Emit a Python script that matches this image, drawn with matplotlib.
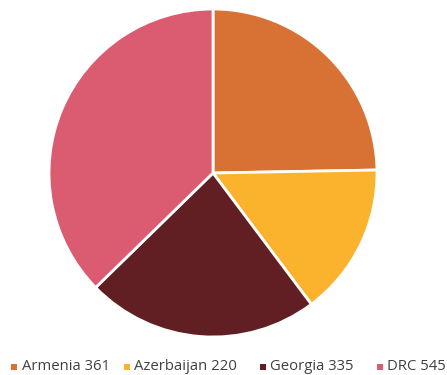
import matplotlib
matplotlib.use("Agg")
import matplotlib.pyplot as plt
from matplotlib.patches import Rectangle

categories = ["Armenia", "Azerbaijan", "Georgia", "DRC"]
values = [361, 220, 335, 545]
colors = ["#D87234", "#FBB22D", "#621F23", "#DB5C71"]

W, H = 447, 375
fig = plt.figure(figsize=(W / 100, H / 100), dpi=100)
cx, cy, r = 213, 173, 164
ax = fig.add_axes([(cx - r) / W, 1 - (cy + r) / H, 2 * r / W, 2 * r / H])
ax.pie(values, colors=colors, startangle=90, counterclock=False,
       wedgeprops=dict(edgecolor="white", linewidth=2))
ax.set_xlim(-1, 1)
ax.set_ylim(-1, 1)
ax.set_aspect("equal")

marker_x = [11, 124, 260, 377]
text_x = [22, 134, 270, 387]
ly = 367
for mx, tx, c, v, col in zip(marker_x, text_x, categories, values, colors):
    fig.patches.append(Rectangle((mx / W, 1 - (ly + 3) / H), 6 / W, 6 / H,
                                 transform=fig.transFigure, facecolor=col,
                                 edgecolor="none"))
    fig.text(tx / W, 1 - ly / H, f"{c} {v}", fontsize=10.7,
             family="Open Sans", color="#404040", va="center", ha="left")

fig.savefig("out.png", dpi=100)
